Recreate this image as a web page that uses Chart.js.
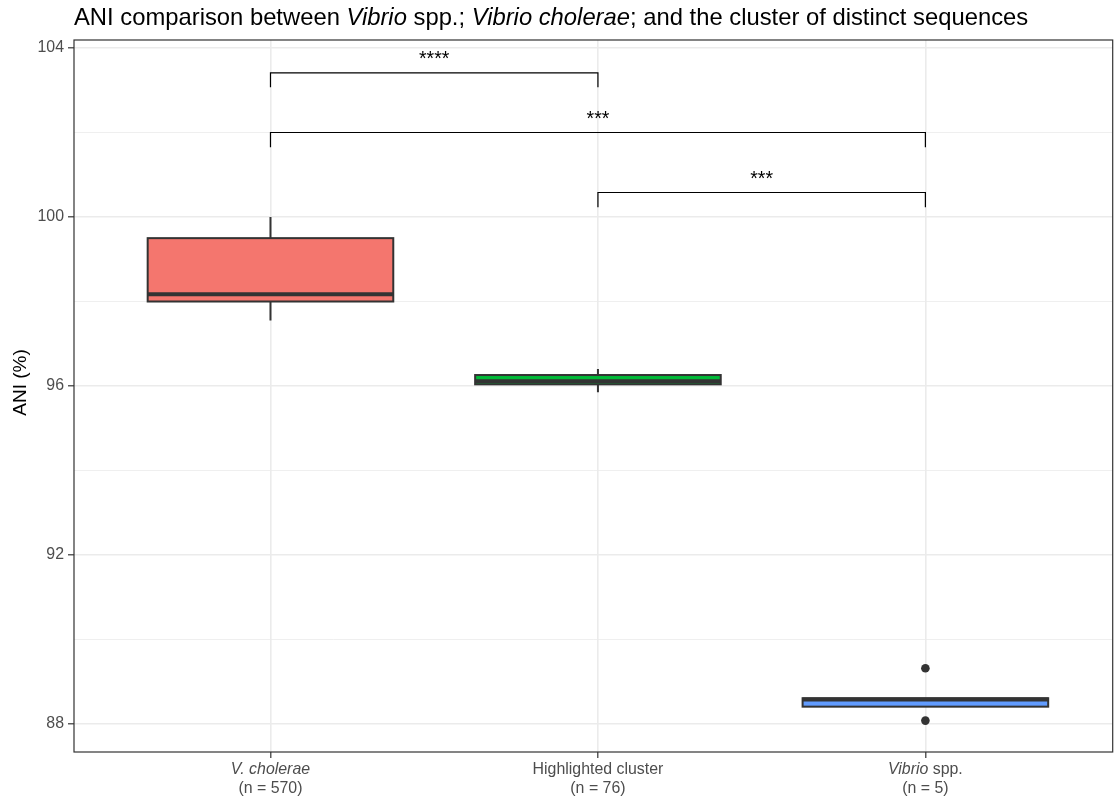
<!DOCTYPE html>
<html>
<head>
<meta charset="utf-8">
<script src="https://cdn.jsdelivr.net/npm/chart.js@4"></script>
<style>
  html, body { margin: 0; padding: 0; background: #ffffff; }
  #wrap { width: 1117px; height: 796px; }
</style>
</head>
<body>
<div id="wrap"><canvas id="chart" width="1117" height="796"></canvas></div>
<script>
// ---- data ----
const groupPositions = [1, 2, 3];
const groupNames = ['V. cholerae', 'Highlighted cluster', 'Vibrio spp.'];
const groupSizes = [570, 76, 5];
// label pieces: [text, italic]
const groupLabelParts = [
  [['V. cholerae', true]],
  [['Highlighted cluster', false]],
  [['Vibrio', true], [' spp.', false]]
];
const whiskerLow  = [97.55, 95.85, 88.41];
const q1          = [98.00, 96.04, 88.41];
const median      = [98.17, 96.11, 88.58];
const q3          = [99.50, 96.26, 88.61];
const whiskerHigh = [100.00, 96.40, 88.61];
const outlierGroup  = [3, 3];
const outlierValues = [89.32, 88.08];
const boxFills = ['#F4766E', '#00BA38', '#619CFF'];

// pairwise comparisons
const compFrom   = [1, 1, 2];
const compTo     = [2, 3, 3];
const compLabels = ['****', '***', '***'];
const compY      = [103.41, 102.00, 100.58];
const compTipY   = [103.07, 101.65, 100.23];

const yMajorStep = 4;
const yAxisTitle = 'ANI (%)';
const titleParts = [
  ['ANI comparison between ', false],
  ['Vibrio', true],
  [' spp.; ', false],
  ['Vibrio cholerae', true],
  ['; and the cluster of distinct sequences', false]
];

// ---- styling ----
const FONT = '"Liberation Sans", Arial, Helvetica, sans-serif';
const INK = '#333333';
const AXIS_TEXT = '#4D4D4D';
const GRID = '#EBEBEB';
const AXIS_SIZE = 15.9;

function drawParts(ctx, parts, x, y, size, color, align) {
  const fontFor = it => (it ? 'italic ' : '') + size + 'px ' + FONT;
  let total = 0;
  parts.forEach(([t, it]) => { ctx.font = fontFor(it); total += ctx.measureText(t).width; });
  let cx = align === 'center' ? x - total / 2 : x;
  ctx.fillStyle = color;
  ctx.textAlign = 'left';
  ctx.textBaseline = 'alphabetic';
  parts.forEach(([t, it]) => {
    ctx.font = fontFor(it);
    ctx.fillText(t, cx, y);
    cx += ctx.measureText(t).width;
  });
}

const boxPlugin = {
  id: 'boxes',
  beforeDatasetsDraw(chart) {
    const { ctx, scales: { x, y } } = chart;
    const half = 0.375;
    groupPositions.forEach((p, i) => {
      const xc = x.getPixelForValue(p);
      const xl = x.getPixelForValue(p - half);
      const xr = x.getPixelForValue(p + half);
      const yTop = y.getPixelForValue(q3[i]);
      const yBot = y.getPixelForValue(q1[i]);
      const yMed = y.getPixelForValue(median[i]);
      ctx.save();
      ctx.strokeStyle = INK;
      ctx.lineWidth = 2;
      ctx.beginPath();
      ctx.moveTo(xc, yTop); ctx.lineTo(xc, y.getPixelForValue(whiskerHigh[i]));
      ctx.moveTo(xc, yBot); ctx.lineTo(xc, y.getPixelForValue(whiskerLow[i]));
      ctx.stroke();
      ctx.fillStyle = boxFills[i];
      ctx.fillRect(xl, yTop, xr - xl, yBot - yTop);
      ctx.strokeRect(xl, yTop, xr - xl, yBot - yTop);
      ctx.lineWidth = 4;
      ctx.beginPath();
      ctx.moveTo(xl, yMed); ctx.lineTo(xr, yMed);
      ctx.stroke();
      ctx.restore();
    });
  },
  afterDatasetsDraw(chart) {
    const { ctx, scales: { x, y } } = chart;
    ctx.save();
    ctx.strokeStyle = '#000000';
    ctx.lineWidth = 1.2;
    compFrom.forEach((a, i) => {
      const x1 = x.getPixelForValue(a);
      const x2 = x.getPixelForValue(compTo[i]);
      const yb = y.getPixelForValue(compY[i]);
      const yt = y.getPixelForValue(compTipY[i]);
      ctx.beginPath();
      ctx.moveTo(x1, yt); ctx.lineTo(x1, yb); ctx.lineTo(x2, yb); ctx.lineTo(x2, yt);
      ctx.stroke();
      ctx.fillStyle = '#000000';
      ctx.font = '19.5px ' + FONT;
      ctx.textAlign = 'center';
      ctx.textBaseline = 'alphabetic';
      ctx.fillText(compLabels[i], (x1 + x2) / 2, yb - 8);
    });
    ctx.restore();
  },
  afterDraw(chart) {
    const { ctx, chartArea: a, scales: { x } } = chart;
    ctx.save();
    // panel border
    ctx.strokeStyle = INK;
    ctx.lineWidth = 1.2;
    ctx.strokeRect(a.left, a.top, a.right - a.left, a.bottom - a.top);
    // title
    drawParts(ctx, titleParts, a.left, 25, 23.8, '#000000', 'left');
    // category labels
    groupPositions.forEach((p, i) => {
      const xc = x.getPixelForValue(p);
      drawParts(ctx, groupLabelParts[i], xc, a.bottom + 22, AXIS_SIZE, AXIS_TEXT, 'center');
      drawParts(ctx, [['(n = ' + groupSizes[i] + ')', false]], xc, a.bottom + 41, AXIS_SIZE, AXIS_TEXT, 'center');
    });
    // y axis title
    ctx.translate(26, 382.5);
    ctx.rotate(-Math.PI / 2);
    ctx.fillStyle = '#000000';
    ctx.font = '19px ' + FONT;
    ctx.textAlign = 'center';
    ctx.textBaseline = 'alphabetic';
    ctx.fillText(yAxisTitle, 0, 0);
    ctx.restore();
  }
};

const isMajor = v => Math.abs(v / yMajorStep - Math.round(v / yMajorStep)) < 1e-6;

new Chart(document.getElementById('chart'), {
  type: 'scatter',
  data: {
    datasets: [{
      label: 'outliers',
      data: outlierValues.map((v, i) => ({ x: outlierGroup[i], y: v })),
      pointRadius: 4.3,
      pointHoverRadius: 4.3,
      backgroundColor: INK,
      borderWidth: 0
    }]
  },
  options: {
    responsive: false,
    animation: false,
    devicePixelRatio: 1,
    layout: { padding: { top: 40, right: 1, left: 0, bottom: 0 } },
    plugins: { legend: { display: false }, tooltip: { enabled: false } },
    scales: {
      x: {
        type: 'linear',
        position: 'bottom',
        min: 0.4,
        max: 3.572,
        afterFit(s) { s.height = 44; },
        ticks: { display: false, stepSize: 1, includeBounds: false, autoSkip: false },
        grid: { color: GRID, lineWidth: 1.6, tickLength: 6, tickColor: INK, tickWidth: 1.2 },
        border: { display: false }
      },
      y: {
        type: 'linear',
        min: 87.337,
        max: 104.19,
        afterFit(s) { s.width = 74; },
        ticks: {
          stepSize: 2,
          includeBounds: false,
          autoSkip: false,
          padding: 4,
          color: AXIS_TEXT,
          font: { family: FONT, size: AXIS_SIZE },
          callback: v => (isMajor(v) ? String(v) : '')
        },
        grid: {
          color: GRID,
          lineWidth: c => (c.tick && isMajor(c.tick.value) ? 1.6 : 0.8),
          tickLength: 6,
          tickColor: c => (c.tick && isMajor(c.tick.value) ? INK : 'rgba(0,0,0,0)'),
          tickWidth: 1.2
        },
        border: { display: false }
      }
    }
  },
  plugins: [boxPlugin]
});
</script>
</body>
</html>
